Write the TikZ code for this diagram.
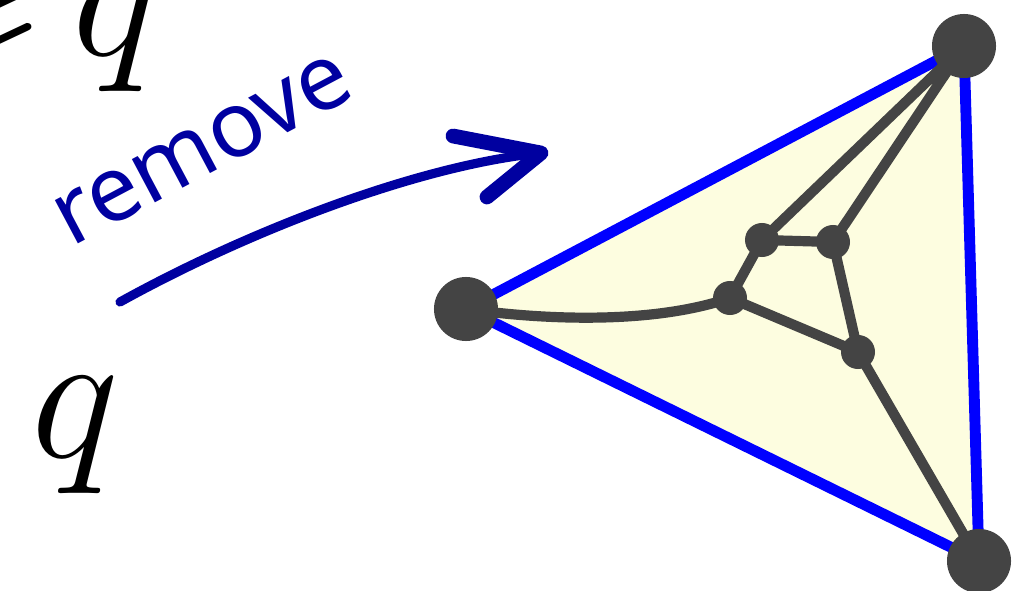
\documentclass[tikz,border=0pt]{standalone}
\usepackage{fix-cm}
\usepackage{amssymb}
\usepackage{fontspec}
\newfontfamily\handfont{Noto Sans}
\usepackage{tikz}
\usetikzlibrary{arrows.meta}
\definecolor{penblue}{RGB}{0,0,160}
\definecolor{edgeblue}{RGB}{0,0,255}
\definecolor{facefill}{RGB}{253,253,224}
\definecolor{dotgrey}{RGB}{68,68,68}

\begin{document}
\begin{tikzpicture}[x=0.01cm,y=-0.01cm,
  outer/.style={edgeblue,line width=3.1pt,line cap=round},
  inner/.style={dotgrey,line width=2.9pt,line cap=round},
  pen/.style={penblue,line width=2.6pt,line cap=round,line join=round}]
  \clip (0,0) rectangle (1024,591);
  % labels
  \node[anchor=base east,font=\fontsize{53}{60}\selectfont] (qtop) at (173,56) {$\geqslant\mkern-2.5mu q$};
  \node[anchor=base,font=\fontsize{53}{60}\selectfont] (qbot) at (75,457) {$q$};
  \node[rotate=28,text=penblue,font=\handfont\fontsize{26}{30}\selectfont] (rm) at (203,150) {remove};
  % hand drawn arrow
  \coordinate (s) at (120,302);
  \coordinate (tip) at (541,153);
  \coordinate (b1) at (453,136);
  \coordinate (b2) at (487,197);
  \draw[pen] (s) .. controls (250,230) and (420,165) .. (tip);
  \draw[pen,line width=4.2pt] (b1) -- (tip) -- (b2);
  % outer face
  \coordinate (L) at (466,309);
  \coordinate (T) at (964,46);
  \coordinate (R) at (979,561);
  \coordinate (A) at (762,240);
  \coordinate (B) at (833,242);
  \coordinate (C) at (730,298);
  \coordinate (D) at (858,352);
  \fill[facefill] (L) -- (T) -- (R) -- cycle;
  \draw[outer] (L) -- (T) -- (R) -- cycle;
  % inner graph
  \draw[inner] (L) .. controls (560,322) and (660,322) .. (C);
  \draw[inner] (T) -- (A) (T) -- (B) (A) -- (B) (A) -- (C) (C) -- (D) (B) -- (D) (D) -- (R);
  \fill[dotgrey] (L) circle (0.32cm);
  \fill[dotgrey] (T) circle (0.32cm);
  \fill[dotgrey] (R) circle (0.32cm);
  \fill[dotgrey] (A) circle (0.17cm);
  \fill[dotgrey] (B) circle (0.17cm);
  \fill[dotgrey] (C) circle (0.17cm);
  \fill[dotgrey] (D) circle (0.17cm);
\end{tikzpicture}
\end{document}
